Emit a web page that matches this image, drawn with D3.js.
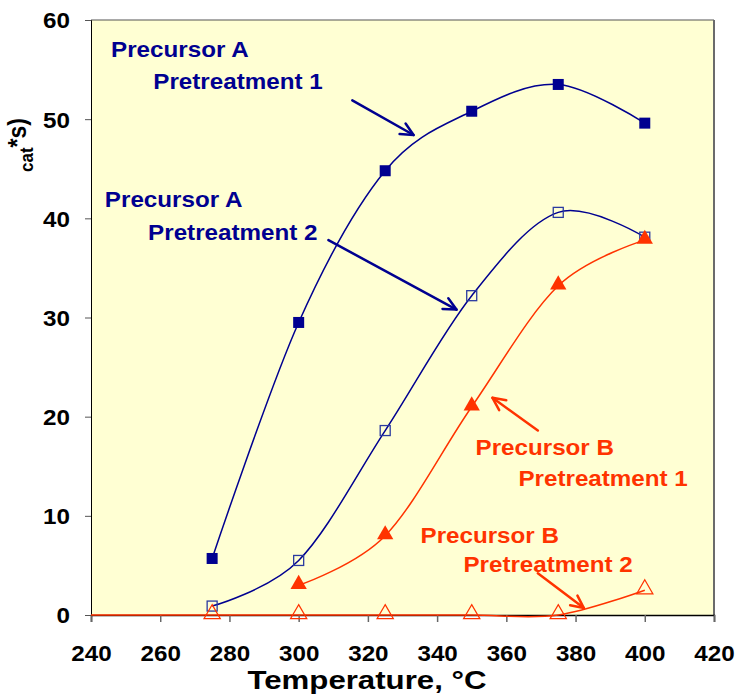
<!DOCTYPE html>
<html>
<head>
<meta charset="utf-8">
<script src="https://cdn.jsdelivr.net/npm/d3@7"></script>
<style>
  body { margin: 0; background: #ffffff; }
  text { font-family: "Liberation Sans", Arial, sans-serif; font-weight: bold; }
</style>
</head>
<body>
<svg id="chart" width="737" height="694"></svg>
<script>
// Temperatures (°C) at which each catalyst was measured
const temperatures = [275, 300, 325, 350, 375, 400];
const tempsB1 = [300, 325, 350, 375, 400];

// Rates for each precursor / pretreatment combination
const precursorA1 = [5.7, 29.5, 44.8, 50.8, 53.5, 49.6];
const precursorA2 = [0.9, 5.5, 18.6, 32.2, 40.6, 38.1];
const precursorB1 = [3.0, 8.0, 21.0, 33.2, 37.8];
const precursorB2 = [0, 0, 0, 0, 0, 2.5];
const b2LeadIn = 240;   // the B2 trace runs along zero from the axis

// Axis ticks
const xTicks = [240, 260, 280, 300, 320, 340, 360, 380, 400, 420];
const yTicks = [0, 10, 20, 30, 40, 50, 60];

// Label text and arrows, positioned in data units (temperature, rate)
const annotations = [
  { color: "#000090", lines: [["Precursor A", 245.8, 56.3], ["Pretreatment 1", 258.0, 53.0]],
    arrow: [[315.5, 51.9], [333.2, 48.4]] },
  { color: "#000090", lines: [["Precursor A", 244.0, 41.1], ["Pretreatment 2", 256.5, 37.8]],
    arrow: [[308.6, 37.8], [345.6, 30.8]] },
  { color: "#FF3300", lines: [["Precursor B", 351.1, 16.1], ["Pretreatment 1", 363.5, 13.0]],
    arrow: [[369.1, 18.6], [356.0, 21.9]] },
  { color: "#FF3300", lines: [["Precursor B", 335.2, 7.3], ["Pretreatment 2", 347.6, 4.3]],
    arrow: [[369.1, 4.2], [382.4, 0.7]] }
];

const NAVY = "#000090";
const NAVY_OPEN = "#2a3aa0";
const RED = "#FF3300";
const STRETCH = 1.1;   // lettering is set slightly wide

const svg = d3.select("#chart");
const plot = { left: 91, top: 20, right: 714, bottom: 615 };

const x = d3.scaleLinear().domain([240, 420]).range([plot.left, plot.right]);
const y = d3.scaleLinear().domain([0, 60]).range([plot.bottom, plot.top]);

// Plot background
svg.append("rect")
  .attr("x", plot.left).attr("y", plot.top)
  .attr("width", plot.right - plot.left).attr("height", plot.bottom - plot.top)
  .attr("fill", "#FFFFD3");

// Frame: grey top and right edges
svg.append("line").attr("x1", plot.left).attr("x2", plot.right)
  .attr("y1", plot.top).attr("y2", plot.top).attr("stroke", "#555").attr("stroke-width", 1.2);
svg.append("line").attr("x1", plot.right).attr("x2", plot.right)
  .attr("y1", plot.top).attr("y2", plot.bottom).attr("stroke", "#6b6b6b").attr("stroke-width", 2);

// Axes
const xAxis = svg.append("g").attr("transform", `translate(0,${plot.bottom})`)
  .call(d3.axisBottom(x).tickValues(xTicks).tickSize(7).tickFormat(d3.format("d")));
const yAxis = svg.append("g").attr("transform", `translate(${plot.left},0)`)
  .call(d3.axisLeft(y).tickValues(yTicks).tickSize(6).tickFormat(d3.format("d")));

xAxis.select(".domain").attr("stroke", "#000").attr("stroke-width", 1.5);
yAxis.select(".domain").attr("stroke", "#000").attr("stroke-width", 1);
xAxis.selectAll(".tick line").attr("stroke", "#666").attr("stroke-width", 1.5);
yAxis.selectAll(".tick line").attr("stroke", "#555").attr("stroke-width", 1);

xAxis.selectAll(".tick text")
  .attr("y", 0).attr("dy", 0).attr("transform", `translate(0,46) scale(${STRETCH},1)`)
  .attr("font-size", 22).attr("fill", "#000");
yAxis.selectAll(".tick text")
  .attr("x", 0).attr("dy", "0.36em").attr("transform", `translate(-21,0) scale(${STRETCH},1)`)
  .attr("font-size", 22).attr("fill", "#000");

// Axis titles
svg.append("text")
  .attr("transform", `translate(367,689) scale(1.2,1)`)
  .attr("text-anchor", "middle").attr("font-size", 26).attr("fill", "#000")
  .text("Temperature, °C");

const yTitle = svg.append("text")
  .attr("transform", `translate(26,172) scale(${STRETCH},1) rotate(-90)`)
  .attr("fill", "#000");
yTitle.append("tspan").attr("font-size", 17).attr("dy", 6.5).text("cat");
yTitle.append("tspan").attr("font-size", 23).attr("dy", -6.5).text("*s)");

// Smoothed series lines
const line = d3.line().x(d => x(d[0])).y(d => y(d[1])).curve(d3.curveCardinal.tension(0));
const zip = (xs, ys) => xs.map((t, i) => [t, ys[i]]);

const seriesA1 = zip(temperatures, precursorA1);
const seriesA2 = zip(temperatures, precursorA2);
const seriesB1 = zip(tempsB1, precursorB1);
const seriesB2 = zip(temperatures, precursorB2);

svg.append("path").attr("d", line([[b2LeadIn, 0], ...seriesB2]))
  .attr("fill", "none").attr("stroke", RED).attr("stroke-width", 1.5);
svg.append("path").attr("d", line(seriesB1))
  .attr("fill", "none").attr("stroke", RED).attr("stroke-width", 1.5);
svg.append("path").attr("d", line(seriesA2))
  .attr("fill", "none").attr("stroke", NAVY).attr("stroke-width", 1.5);
svg.append("path").attr("d", line(seriesA1))
  .attr("fill", "none").attr("stroke", NAVY).attr("stroke-width", 1.5);

// Markers
const sq = 11;
svg.append("g").selectAll("rect").data(seriesA1).join("rect")
  .attr("x", d => x(d[0]) - sq / 2).attr("y", d => y(d[1]) - sq / 2)
  .attr("width", sq).attr("height", sq).attr("fill", NAVY);
svg.append("g").selectAll("rect").data(seriesA2).join("rect")
  .attr("x", d => x(d[0]) - (sq - 1) / 2).attr("y", d => y(d[1]) - (sq - 1) / 2)
  .attr("width", sq - 1).attr("height", sq - 1)
  .attr("fill", "none").attr("stroke", NAVY_OPEN).attr("stroke-width", 1.3);

const tri = d3.symbol().type(d3.symbolTriangle).size(115);
svg.append("g").selectAll("path").data(seriesB1).join("path")
  .attr("d", tri).attr("transform", d => `translate(${x(d[0])},${y(d[1]) - 1})`)
  .attr("fill", RED);
svg.append("g").selectAll("path").data(seriesB2).join("path")
  .attr("d", tri).attr("transform", d => `translate(${x(d[0])},${y(d[1]) - 1})`)
  .attr("fill", "none").attr("stroke", RED).attr("stroke-width", 1.2);

// Annotations: two-line labels with pointing arrows
annotations.forEach(a => {
  a.lines.forEach(([txt, t, v]) => {
    svg.append("text")
      .attr("transform", `translate(${x(t)},${y(v)}) scale(${STRETCH},1)`)
      .attr("font-size", 22).attr("fill", a.color).text(txt);
  });
  const [p0, p1] = a.arrow.map(([t, v]) => [x(t), y(v)]);
  const g = svg.append("g").attr("stroke", a.color).attr("stroke-width", 2.5)
    .attr("fill", "none").attr("stroke-linecap", "round").attr("stroke-linejoin", "round");
  g.append("line").attr("x1", p0[0]).attr("y1", p0[1]).attr("x2", p1[0]).attr("y2", p1[1]);
  const ang = Math.atan2(p1[1] - p0[1], p1[0] - p0[0]);
  const len = 14, spread = Math.PI / 7;
  const b1 = [p1[0] - len * Math.cos(ang - spread), p1[1] - len * Math.sin(ang - spread)];
  const b2 = [p1[0] - len * Math.cos(ang + spread), p1[1] - len * Math.sin(ang + spread)];
  g.append("path").attr("d", `M${b1[0]},${b1[1]}L${p1[0]},${p1[1]}L${b2[0]},${b2[1]}`);
});
</script>
</body>
</html>
